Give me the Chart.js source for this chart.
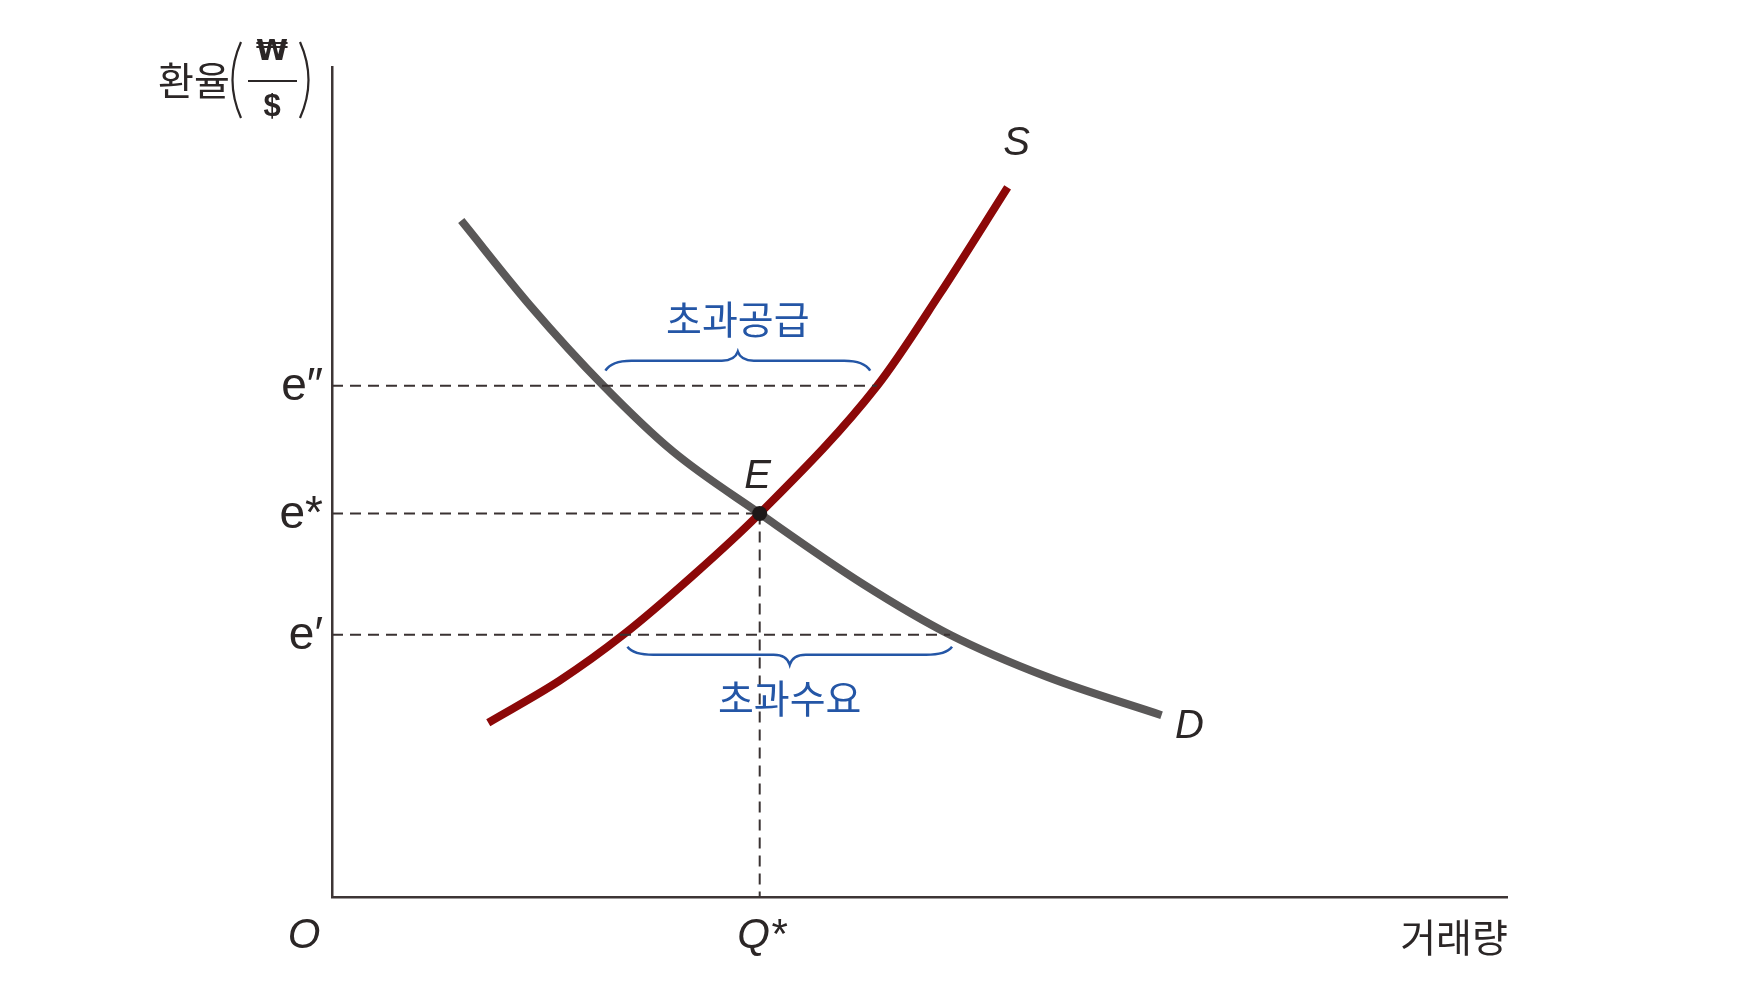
<!DOCTYPE html>
<html lang="ko">

<head>
  <meta charset="UTF-8" />
  <script src="https://cdn.jsdelivr.net/npm/chart.js"></script>
  <title>환율 수요 공급</title>
  <style>
    body { margin: 0; background: #fff; }
    canvas { display: block; }
  </style>
</head>

<body>
  <canvas id="grafico" width="1749" height="989"></canvas>

  <script>
    // curvas (quantidade, taxa de câmbio) - escala 0..100
    const ofertaQ = [13.3, 19.4, 24.8, 30.7, 36.4, 46.4, 51.7, 57.5];
    const ofertaE = [21.0, 26.1, 31.6, 38.7, 46.2, 61.6, 72.6, 85.5];
    const demandaQ = [11.0, 16.9, 23.1, 29.0, 36.4, 45.2, 52.6, 60.9, 70.6];
    const demandaE = [81.5, 71.2, 61.6, 53.7, 46.2, 37.7, 31.6, 26.5, 21.9];

    const qEstrela = 36.4;
    const niveis = [61.6, 46.2, 31.6];          // e″, e*, e′
    const rotulosNivel = ["e″", "e*", "e′"];
    const fimTracejado = [46.4, 36.4, 52.6];    // onde cada linha tracejada termina
    const excessoOferta = [23.1, 46.4];         // D e S em e″
    const excessoDemanda = [24.8, 52.6];        // S e D em e′

    const corAzul = "#2456a6";
    const corTexto = "#2b2626";
    const corTracejado = "#3a3232";

    function pares(xs, ys) {
      return xs.map((x, i) => ({ x: x, y: ys[i] }));
    }

    let tracejados = [];
    for (let i = 0; i < niveis.length; i++) {
      tracejados.push({
        data: [{ x: 0, y: niveis[i] }, { x: fimTracejado[i], y: niveis[i] }],
        showLine: true,
        borderColor: corTracejado,
        borderWidth: 2,
        borderDash: [11, 7],
        pointRadius: 0,
      });
    }
    tracejados.push({
      data: [{ x: qEstrela, y: niveis[1] }, { x: qEstrela, y: 0 }],
      showLine: true,
      borderColor: corTracejado,
      borderWidth: 2,
      borderDash: [11, 7],
      pointRadius: 0,
    });

    function chave(ctx, x1, x2, y0, yPlano, yPonta) {
      const xm = (x1 + x2) / 2;
      ctx.beginPath();
      ctx.moveTo(x1, y0);
      ctx.quadraticCurveTo(x1 + 6, yPlano, x1 + 26, yPlano);
      ctx.lineTo(xm - 16, yPlano);
      ctx.quadraticCurveTo(xm - 3, yPlano, xm, yPonta);
      ctx.quadraticCurveTo(xm + 3, yPlano, xm + 16, yPlano);
      ctx.lineTo(x2 - 26, yPlano);
      ctx.quadraticCurveTo(x2 - 6, yPlano, x2, y0);
      ctx.stroke();
    }

    const rotulos = {
      id: "rotulos",
      afterDraw(chart) {
        const ctx = chart.ctx;
        const sx = chart.scales.x;
        const sy = chart.scales.y;
        const x0 = sx.getPixelForValue(0);
        const yBase = sy.getPixelForValue(0);
        const yTopo = sy.getPixelForValue(100);

        ctx.save();
        ctx.fillStyle = corTexto;
        ctx.strokeStyle = corTexto;

        // e″, e*, e′
        ctx.font = '46px "Liberation Sans", "DejaVu Sans"';
        ctx.textAlign = "right";
        ctx.textBaseline = "alphabetic";
        for (let i = 0; i < niveis.length; i++) {
          ctx.fillText(rotulosNivel[i], x0 - 9, sy.getPixelForValue(niveis[i]) + 14);
        }

        // O, Q*, S, D, E
        ctx.textAlign = "center";
        ctx.font = 'italic 42px "Liberation Sans"';
        ctx.fillText("O", x0 - 28, yBase + 51);
        ctx.fillText("Q*", sx.getPixelForValue(qEstrela) + 2, yBase + 51);
        ctx.font = 'italic 40px "Liberation Sans"';
        const n = ofertaQ.length - 1;
        ctx.fillText("S", sx.getPixelForValue(ofertaQ[n]) + 9, sy.getPixelForValue(ofertaE[n]) - 32);
        const m = demandaQ.length - 1;
        ctx.fillText("D", sx.getPixelForValue(demandaQ[m]) + 28, sy.getPixelForValue(demandaE[m]) + 23);
        ctx.fillText("E", sx.getPixelForValue(qEstrela) - 2, sy.getPixelForValue(niveis[1]) - 26);

        // eixo x: 거래량
        ctx.font = '39px "Noto Sans CJK KR"';
        ctx.textBaseline = "middle";
        ctx.fillText("거래량", sx.getPixelForValue(100) - 53, yBase + 40);

        // eixo y: 환율(₩/$)
        ctx.fillText("환율", x0 - 138, yTopo + 13);
        ctx.font = 'bold 29px "DejaVu Sans"';
        ctx.fillText("₩", x0 - 60, yTopo - 15);
        ctx.font = 'bold 31px "Liberation Sans"';
        ctx.fillText("$", x0 - 60, yTopo + 40);
        ctx.lineWidth = 2;
        ctx.beginPath();
        ctx.moveTo(x0 - 84, yTopo + 14);
        ctx.lineTo(x0 - 35, yTopo + 14);
        ctx.stroke();
        ctx.lineWidth = 2.2;
        ctx.beginPath();
        ctx.moveTo(x0 - 91, yTopo - 25);
        ctx.quadraticCurveTo(x0 - 108, yTopo + 13, x0 - 91, yTopo + 51);
        ctx.stroke();
        ctx.beginPath();
        ctx.moveTo(x0 - 32, yTopo - 25);
        ctx.quadraticCurveTo(x0 - 15, yTopo + 13, x0 - 32, yTopo + 51);
        ctx.stroke();

        // chaves azuis
        ctx.strokeStyle = corAzul;
        ctx.fillStyle = corAzul;
        ctx.lineWidth = 2.5;
        const yAlto = sy.getPixelForValue(niveis[0]);
        const a1 = sx.getPixelForValue(excessoOferta[0]) + 2;
        const a2 = sx.getPixelForValue(excessoOferta[1]) - 7;
        chave(ctx, a1, a2, yAlto - 15, yAlto - 25, yAlto - 34);
        const yBaixo = sy.getPixelForValue(niveis[2]);
        const b1 = sx.getPixelForValue(excessoDemanda[0]) + 4;
        const b2 = sx.getPixelForValue(excessoDemanda[1]) + 2;
        chave(ctx, b1, b2, yBaixo + 12, yBaixo + 20, yBaixo + 30);

        ctx.font = '39px "Noto Sans CJK KR"';
        ctx.textBaseline = "middle";
        ctx.fillText("초과공급", (a1 + a2) / 2, yAlto - 67);
        ctx.fillText("초과수요", (b1 + b2) / 2, yBaixo + 63);

        ctx.restore();
      },
    };

    const config = {
      type: "scatter",
      data: {
        datasets: [
          {
            data: [{ x: qEstrela, y: niveis[1] }],
            pointRadius: 7.5,
            pointBackgroundColor: "#1c1818",
            pointBorderWidth: 0,
          },
          ...tracejados,
          {
            label: "S",
            data: pares(ofertaQ, ofertaE),
            showLine: true,
            borderColor: "#8c0808",
            borderWidth: 8,
            borderCapStyle: "butt",
            cubicInterpolationMode: "monotone",
            pointRadius: 0,
          },
          {
            label: "D",
            data: pares(demandaQ, demandaE),
            showLine: true,
            borderColor: "#5a5858",
            borderWidth: 8,
            borderCapStyle: "butt",
            cubicInterpolationMode: "monotone",
            pointRadius: 0,
          },
        ],
      },
      options: {
        responsive: false,
        animation: false,
        layout: {
          padding: { left: 332, right: 242, top: 67, bottom: 92 },
        },
        scales: {
          x: {
            type: "linear",
            min: 0,
            max: 100,
            grid: { display: false, drawTicks: false },
            ticks: { display: false },
            border: { display: true, color: "#3d3535", width: 2.5 },
          },
          y: {
            type: "linear",
            min: 0,
            max: 100,
            grid: { display: false, drawTicks: false },
            ticks: { display: false },
            border: { display: true, color: "#3d3535", width: 2.5 },
          },
        },
        plugins: {
          legend: { display: false },
          tooltip: { enabled: false },
        },
      },
      plugins: [rotulos],
    };

    let grafico = new Chart(document.getElementById("grafico").getContext("2d"), config);
  </script>
</body>

</html>
